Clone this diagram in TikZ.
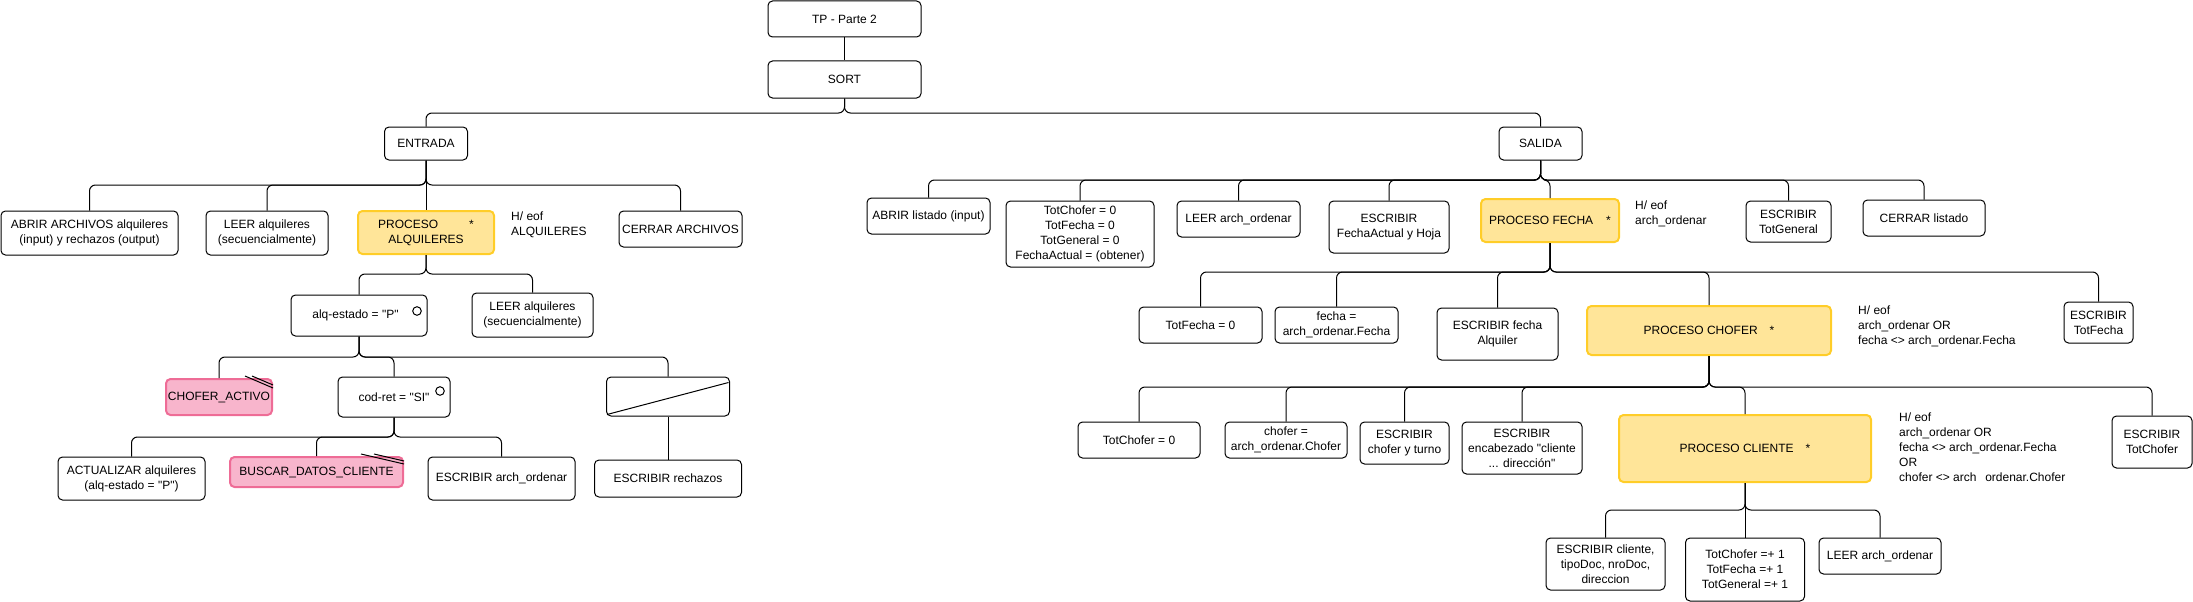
\documentclass[tikz,border=0pt]{standalone}
\usepackage{fontspec}
\setmainfont{Liberation Sans}[Ligatures=TeXOff]
\usetikzlibrary{calc}
\definecolor{yelf}{HTML}{FFE599}
\definecolor{yelb}{HTML}{FFCD28}
\definecolor{pinkf}{HTML}{F8B5CC}
\definecolor{pinkb}{HTML}{EE6C96}
\newcommand\tbranch[3]{\draw[conn] (#1.south) -- (#1.south |- #3) -- (#2.north |- #3) -- (#2.north);}
\begin{document}
\begin{tikzpicture}[x=1pt,y=-1pt,font=\fontsize{12}{15}\selectfont,
 box/.style={draw=black,line width=1pt,rounded corners=4.5pt,fill=white,align=center,inner sep=0pt},
 ybox/.style={box,draw=yelb,fill=yelf,line width=2pt},
 pbox/.style={box,draw=pinkb,fill=pinkf,line width=2pt},
 note/.style={anchor=west,align=left,inner sep=0pt},
 conn/.style={line width=1pt,rounded corners=6pt},
 circ/.style={circle,draw=black,line width=1pt,minimum size=8.6pt,inner sep=0pt},
 mark2/.style={line width=1pt}]
\useasboundingbox (0,0) rectangle (2193,602);

% bus levels
\coordinate (bSort) at (0,113);
\coordinate (bEnt) at (0,185);
\coordinate (bProcA) at (0,274);
\coordinate (bAlq) at (0,357);
\coordinate (bCod) at (0,437);
\coordinate (bSal) at (0,180);
\coordinate (bProcF) at (0,272);
\coordinate (bProcC) at (0,387);
\coordinate (bProcCl) at (0,510);

% top
\node[box,minimum width=153pt,minimum height=36pt] (tp) at (844.5,19) {TP - Parte 2};
\node[box,minimum width=153pt,minimum height=37pt] (sort) at (844.5,79.5) {SORT};
\node[box,minimum width=83pt,minimum height=33pt] (entrada) at (426,143.5) {ENTRADA};
\node[box,minimum width=83pt,minimum height=33pt] (salida) at (1540.5,143.5) {SALIDA};

% ENTRADA branch
\node[box,minimum width=177pt,minimum height=44pt] (abrirA) at (89.5,233) {ABRIR ARCHIVOS alquileres\\(input) y rechazos (output)};
\node[box,minimum width=122pt,minimum height=44pt] (leerA) at (267,233) {LEER alquileres\\(secuencialmente)};
\node[ybox,minimum width=136pt,minimum height=43pt] (procA) at (426,232.5) {PROCESO\hspace{31pt}*\\ALQUILERES};
\node[note] (heofA) at (511,225) {H/ eof\\ALQUILERES};
\node[box,minimum width=123pt,minimum height=36pt] (cerrarA) at (680.5,229) {CERRAR ARCHIVOS};

\node[box,minimum width=136pt,minimum height=41pt] (alq) at (359,315.5) {\hspace{-7pt}alq-estado = "P"};
\node[circ] (alqc) at (417,311) {};
\node[box,minimum width=121pt,minimum height=44pt] (leerA2) at (532.5,315) {LEER alquileres\\(secuencialmente)};

\node[pbox,minimum width=106pt,minimum height=36pt] (chofAct) at (219,397) {CHOFER\_ACTIVO};
\node[box,minimum width=112pt,minimum height=40pt] (codret) at (394,397) {cod-ret = "SI"};
\node[circ] (codc) at (440,391) {};
\node[box,minimum width=123pt,minimum height=39pt] (diag) at (668,396.5) {};

\node[box,minimum width=147pt,minimum height=43pt] (actual) at (131.5,478.5) {ACTUALIZAR alquileres\\(alq-estado = "P")};
\node[pbox,minimum width=173pt,minimum height=30pt] (buscar) at (316.5,472) {BUSCAR\_DATOS\_CLIENTE};
\node[box,minimum width=147pt,minimum height=43pt] (escArch) at (501.5,478.5) {ESCRIBIR arch\_ordenar};
\node[box,minimum width=147pt,minimum height=37pt] (escRech) at (668,478.5) {ESCRIBIR rechazos};

% SALIDA branch
\node[box,minimum width=123pt,minimum height=36pt] (abrirL) at (928.5,216) {ABRIR listado (input)};
\node[box,minimum width=148pt,minimum height=66pt] (totBox) at (1080,234) {TotChofer = 0\\TotFecha = 0\\TotGeneral = 0\\FechaActual = (obtener)};
\node[box,minimum width=123pt,minimum height=36pt] (leerAO) at (1238.5,219) {LEER arch\_ordenar};
\node[box,minimum width=120pt,minimum height=52pt] (escFA) at (1389,227) {ESCRIBIR\\FechaActual y Hoja};
\node[ybox,minimum width=138pt,minimum height=43pt] (procF) at (1550,220.5) {PROCESO FECHA\hspace{13pt}*};
\node[note] (heofF) at (1635,213.5) {H/ eof\\arch\_ordenar};
\node[box,minimum width=85pt,minimum height=41pt] (escTG) at (1788.5,221.5) {ESCRIBIR\\TotGeneral};
\node[box,minimum width=122pt,minimum height=36pt] (cerrarL) at (1924,218) {CERRAR listado};

\node[box,minimum width=123pt,minimum height=36pt] (totF0) at (1200.5,325) {TotFecha = 0};
\node[box,minimum width=123pt,minimum height=36pt] (fechaEq) at (1336.5,325) {fecha =\\arch\_ordenar.Fecha};
\node[box,minimum width=121pt,minimum height=52pt] (escFAlq) at (1497.5,334) {ESCRIBIR fecha\\Alquiler};
\node[ybox,minimum width=244pt,minimum height=49pt] (procC) at (1709,330.5) {PROCESO CHOFER\hspace{12pt}*};
\node[note] (heofC) at (1858,326) {H/ eof\\arch\_ordenar OR\\fecha <> arch\_ordenar.Fecha};
\node[box,minimum width=69pt,minimum height=41pt] (escTF) at (2098.5,322.5) {ESCRIBIR\\TotFecha};

\node[box,minimum width=122pt,minimum height=36pt] (totC0) at (1139,440) {TotChofer = 0};
\node[box,minimum width=122pt,minimum height=36pt] (choferEq) at (1286,440) {chofer =\\arch\_ordenar.Chofer};
\node[box,minimum width=89pt,minimum height=42pt] (escCT) at (1404.5,443) {ESCRIBIR\\chofer y turno};
\node[box,minimum width=120pt,minimum height=52pt] (escEnc) at (1522,448) {ESCRIBIR\\encabezado "cliente\\... dirección"};
\node[ybox,minimum width=252pt,minimum height=67pt] (procCl) at (1745,448.5) {PROCESO CLIENTE\hspace{12pt}*};
\node[note] (heofCl) at (1899,447) {H/ eof\\arch\_ordenar OR\\fecha <> arch\_ordenar.Fecha\\OR\\chofer <> arch \ \,ordenar.Chofer};
\node[box,minimum width=80pt,minimum height=52pt] (escTC) at (2152,442) {ESCRIBIR\\TotChofer};

\node[box,minimum width=119pt,minimum height=52pt] (escCli) at (1605.5,564) {ESCRIBIR cliente,\\tipoDoc, nroDoc,\\direccion};
\node[box,minimum width=119pt,minimum height=63pt] (totInc) at (1745,569.5) {TotChofer =+ 1\\TotFecha =+ 1\\TotGeneral =+ 1};
\node[box,minimum width=122pt,minimum height=36pt] (leerAO2) at (1880,556) {LEER arch\_ordenar};

% decorations
\draw[line width=1pt] ($(diag.south west)+(1,-2)$) -- ($(diag.north east)+(-1.5,6)$);
\draw[mark2] ($(chofAct.north east)+(-28,-2)$) -- ($(chofAct.north east)+(0,10)$);
\draw[mark2] ($(chofAct.north east)+(-21,-2)$) -- ($(chofAct.north east)+(0,7)$);
\draw[mark2] ($(buscar.north east)+(-43,-2)$) -- ($(buscar.north east)+(0,8)$);
\draw[mark2] ($(buscar.north east)+(-30,-2)$) -- ($(buscar.north east)+(0,5)$);

% connectors
\draw[conn] (tp.south) -- (sort.north);
\tbranch{sort}{entrada}{bSort}
\tbranch{sort}{salida}{bSort}

\tbranch{entrada}{abrirA}{bEnt}
\tbranch{entrada}{leerA}{bEnt}
\draw[conn] (entrada.south) -- (procA.north);
\tbranch{entrada}{cerrarA}{bEnt}

\tbranch{procA}{alq}{bProcA}
\tbranch{procA}{leerA2}{bProcA}

\tbranch{alq}{chofAct}{bAlq}
\tbranch{alq}{codret}{bAlq}
\tbranch{alq}{diag}{bAlq}

\tbranch{codret}{actual}{bCod}
\tbranch{codret}{buscar}{bCod}
\tbranch{codret}{escArch}{bCod}
\draw[conn] (diag.south) -- (escRech.north);

\tbranch{salida}{abrirL}{bSal}
\tbranch{salida}{totBox}{bSal}
\tbranch{salida}{leerAO}{bSal}
\tbranch{salida}{escFA}{bSal}
\tbranch{salida}{procF}{bSal}
\tbranch{salida}{escTG}{bSal}
\tbranch{salida}{cerrarL}{bSal}

\tbranch{procF}{totF0}{bProcF}
\tbranch{procF}{fechaEq}{bProcF}
\tbranch{procF}{escFAlq}{bProcF}
\tbranch{procF}{procC}{bProcF}
\tbranch{procF}{escTF}{bProcF}

\tbranch{procC}{totC0}{bProcC}
\tbranch{procC}{choferEq}{bProcC}
\tbranch{procC}{escCT}{bProcC}
\tbranch{procC}{escEnc}{bProcC}
\tbranch{procC}{procCl}{bProcC}
\tbranch{procC}{escTC}{bProcC}

\tbranch{procCl}{escCli}{bProcCl}
\draw[conn] (procCl.south) -- (totInc.north);
\tbranch{procCl}{leerAO2}{bProcCl}
\end{tikzpicture}
\end{document}
